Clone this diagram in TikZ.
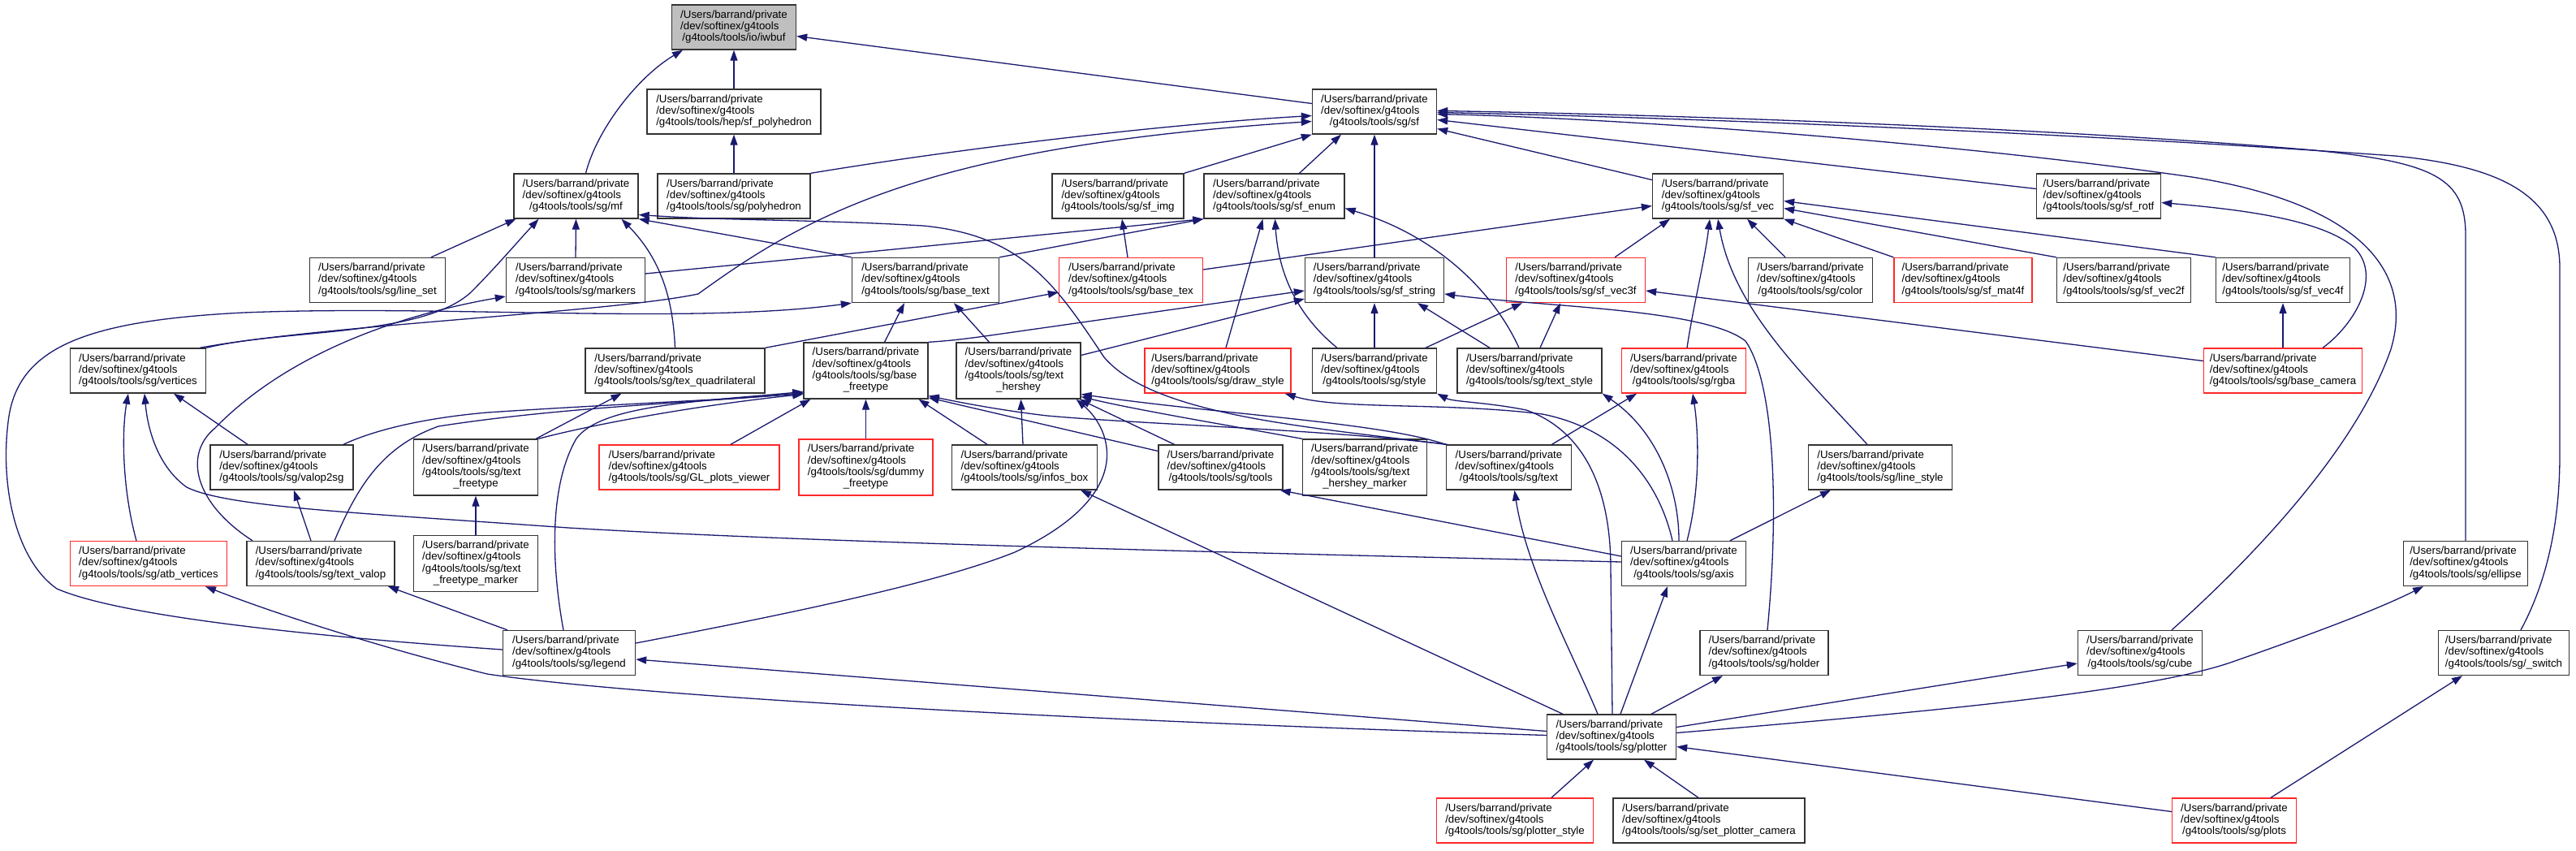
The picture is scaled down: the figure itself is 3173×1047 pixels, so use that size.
\documentclass[tikz,border=0pt]{standalone}
\usepackage{fontspec}
\setmainfont{Liberation Sans}
\usetikzlibrary{arrows.meta}
\definecolor{edgec}{RGB}{25,25,112}
\definecolor{redb}{RGB}{255,40,40}
\definecolor{grayf}{RGB}{191,191,191}
\newcommand\lbthree[1]{\begin{tabular}{@{}l@{}}/Users/barrand/private\\/dev/softinex/g4tools\\\multicolumn{1}{@{}c@{}}{#1}\end{tabular}}
\newcommand\lbfour[2]{\begin{tabular}{@{}l@{}}/Users/barrand/private\\/dev/softinex/g4tools\\#1\\\multicolumn{1}{@{}c@{}}{#2}\end{tabular}}
\begin{document}
\begin{tikzpicture}[x=1pt,y=-1pt,
  box/.style={draw=black!80,fill=white,line width=1.35pt,inner sep=0pt,font=\fontsize{13.3}{14.3}\selectfont,minimum height=55pt},
  tall/.style={minimum height=69pt},
  redbox/.style={draw=redb},
  e/.style={draw=edgec,line width=1.3pt,-{Triangle[length=13pt,width=9pt]}}]
\fill[white] (0,0) rectangle (3173,1047);
\useasboundingbox (0,0) rectangle (3173,1047);
% Row A
\node[box,fill=grayf,minimum width=153pt] (iwbuf) at (904,33.5) {\lbthree{/g4tools/tools/io/iwbuf}};
% Row B
\node[box,minimum width=214pt] (sfpoly) at (904,137.5) {\lbthree{/g4tools/tools/hep/sf\_polyhedron}};
\node[box,minimum width=153pt] (sf) at (1693,137.5) {\lbthree{/g4tools/tools/sg/sf}};
% Row C
\node[box,minimum width=153pt] (mf) at (709.5,241.5) {\lbthree{/g4tools/tools/sg/mf}};
\node[box,minimum width=188pt] (polyhedron) at (904,241.5) {\lbthree{/g4tools/tools/sg/polyhedron}};
\node[box,minimum width=162pt] (sfimg) at (1377,241.5) {\lbthree{/g4tools/tools/sg/sf\_img}};
\node[box,minimum width=173pt] (sfenum) at (1569.5,241.5) {\lbthree{/g4tools/tools/sg/sf\_enum}};
\node[box,minimum width=161pt] (sfvec) at (2116,241.5) {\lbthree{/g4tools/tools/sg/sf\_vec}};
\node[box,minimum width=153pt] (sfrotf) at (2585,241.5) {\lbthree{/g4tools/tools/sg/sf\_rotf}};
% Row D
\node[box,minimum width=167pt] (lineset) at (465,345) {\lbthree{/g4tools/tools/sg/line\_set}};
\node[box,minimum width=171pt] (markers) at (709,345) {\lbthree{/g4tools/tools/sg/markers}};
\node[box,minimum width=181pt] (basetext) at (1140,345) {\lbthree{/g4tools/tools/sg/base\_text}};
\node[box,redbox,minimum width=177pt] (basetex) at (1393,345) {\lbthree{/g4tools/tools/sg/base\_tex}};
\node[box,minimum width=171pt] (sfstring) at (1693,345) {\lbthree{/g4tools/tools/sg/sf\_string}};
\node[box,redbox,minimum width=171pt] (sfvecthree) at (1941,345) {\lbthree{/g4tools/tools/sg/sf\_vec3f}};
\node[box,minimum width=153pt] (color) at (2230,345) {\lbthree{/g4tools/tools/sg/color}};
\node[box,redbox,minimum width=170pt] (sfmat) at (2418,345) {\lbthree{/g4tools/tools/sg/sf\_mat4f}};
\node[box,minimum width=165pt] (sfvectwo) at (2616,345) {\lbthree{/g4tools/tools/sg/sf\_vec2f}};
\node[box,minimum width=165pt] (sfvecfour) at (2812,345) {\lbthree{/g4tools/tools/sg/sf\_vec4f}};
% Row E
\node[box,minimum width=167pt] (vertices) at (170,456.5) {\lbthree{/g4tools/tools/sg/vertices}};
\node[box,minimum width=221pt] (texquad) at (831.5,456.5) {\lbthree{/g4tools/tools/sg/tex\_quadrilateral}};
\node[box,tall,minimum width=153pt] (basefree) at (1066.5,456.5) {\lbfour{/g4tools/tools/sg/base}{\_freetype}};
\node[box,tall,minimum width=153pt] (texthershey) at (1254.5,456.5) {\lbfour{/g4tools/tools/sg/text}{\_hershey}};
\node[box,redbox,minimum width=180pt] (drawstyle) at (1500,456.5) {\lbthree{/g4tools/tools/sg/draw\_style}};
\node[box,minimum width=153pt] (style) at (1693,456.5) {\lbthree{/g4tools/tools/sg/style}};
\node[box,minimum width=178pt] (textstyle) at (1884,456.5) {\lbthree{/g4tools/tools/sg/text\_style}};
\node[box,redbox,minimum width=153pt] (rgba) at (2074,456.5) {\lbthree{/g4tools/tools/sg/rgba}};
\node[box,redbox,minimum width=195pt] (basecamera) at (2812,456.5) {\lbthree{/g4tools/tools/sg/base\_camera}};
% Row F
\node[box,minimum width=176pt] (valop2sg) at (347,575.5) {\lbthree{/g4tools/tools/sg/valop2sg}};
\node[box,tall,minimum width=153pt] (textfree) at (586,575.5) {\lbfour{/g4tools/tools/sg/text}{\_freetype}};
\node[box,redbox,minimum width=222pt] (glplots) at (849,575.5) {\lbthree{/g4tools/tools/sg/GL\_plots\_viewer}};
\node[box,redbox,tall,minimum width=165pt] (dummy) at (1066.5,575.5) {\lbfour{/g4tools/tools/sg/dummy}{\_freetype}};
\node[box,minimum width=179pt] (infos) at (1262,575.5) {\lbthree{/g4tools/tools/sg/infos\_box}};
\node[box,minimum width=153pt] (tools) at (1503.5,575.5) {\lbthree{/g4tools/tools/sg/tools}};
\node[box,tall,minimum width=153pt] (thm) at (1681,575.5) {\lbfour{/g4tools/tools/sg/text}{\_hershey\_marker}};
\node[box,minimum width=154pt] (text) at (1858.5,575.5) {\lbthree{/g4tools/tools/sg/text}};
\node[box,minimum width=177pt] (linestyle) at (2316,575.5) {\lbthree{/g4tools/tools/sg/line\_style}};
% Row G
\node[box,redbox,minimum width=193pt] (atb) at (183,694) {\lbthree{/g4tools/tools/sg/atb\_vertices}};
\node[box,minimum width=182pt] (textvalop) at (395,694) {\lbthree{/g4tools/tools/sg/text\_valop}};
\node[box,tall,minimum width=153pt] (tfm) at (586,694) {\lbfour{/g4tools/tools/sg/text}{\_freetype\_marker}};
\node[box,minimum width=153pt] (axis) at (2074,694) {\lbthree{/g4tools/tools/sg/axis}};
\node[box,minimum width=153pt] (ellipse) at (3037,694) {\lbthree{/g4tools/tools/sg/ellipse}};
% Row H
\node[box,minimum width=163pt] (legend) at (701,804) {\lbthree{/g4tools/tools/sg/legend}};
\node[box,minimum width=158pt] (holder) at (2173,804) {\lbthree{/g4tools/tools/sg/holder}};
\node[box,minimum width=153pt] (cube) at (2636,804) {\lbthree{/g4tools/tools/sg/cube}};
\node[box,minimum width=161pt] (switch) at (3084,804) {\lbthree{/g4tools/tools/sg/\_switch}};
% Row I
\node[box,minimum width=159pt] (plotter) at (1985,907.5) {\lbthree{/g4tools/tools/sg/plotter}};
% Row J
\node[box,redbox,minimum width=193pt] (plotterstyle) at (1866,1010.5) {\lbthree{/g4tools/tools/sg/plotter\_style}};
\node[box,minimum width=236pt] (spc) at (2105,1010.5) {\lbthree{/g4tools/tools/sg/set\_plotter\_camera}};
\node[box,redbox,minimum width=153pt] (plots) at (2752,1010.5) {\lbthree{/g4tools/tools/sg/plots}};
% Edges
\draw[e] ([xshift=12pt]mf.north) .. controls (735,160) and (785,95) .. ([xshift=-63pt]iwbuf.south);
\draw[e] (sfpoly.north) -- (iwbuf.south);
\draw[e] ([yshift=10pt]sf.west) -- ([yshift=-11pt]iwbuf.east);
\draw[e] (polyhedron.north) -- (sfpoly.south);
\draw[e] (polyhedron.north east) .. controls (1200,180) and (1450,152) .. ([yshift=-5pt]sf.west);
\draw[e] ([xshift=-8pt]vertices.north east) .. controls (400,400) and (750,385) .. (860,362) .. controls (1000,260) and (1150,180) .. ([yshift=-12pt]sf.west);
\draw[e] (sfimg.north east) -- (sf.south west);
\draw[e] ([xshift=31pt]sfenum.north) -- ([xshift=-41pt]sf.south);
\draw[e] (sfstring.north) -- (sf.south);
\draw[e] ([yshift=20pt]sfvec.west) -- ([yshift=-21pt]sf.east);
\draw[e] ([yshift=9pt]sfrotf.west) -- ([yshift=-10pt]sf.east);
\draw[e] (ellipse.north) -- (3037,290) .. controls (3037,220) and (3000,200) .. (2850,185) .. controls (2500,155) and (2000,140) .. ([yshift=1pt]sf.east);
\draw[e] ([xshift=21pt]switch.north) .. controls (3135,720) and (3153,650) .. (3153,560) -- (3153,330) .. controls (3153,240) and (3080,205) .. (2950,192) .. controls (2500,160) and (2000,143) .. ([yshift=-1pt]sf.east);
\draw[e] ([xshift=39pt]cube.north) .. controls (2760,700) and (2900,560) .. (2945,430) .. controls (2975,330) and (2900,250) .. (2700,218) .. controls (2400,175) and (2000,146) .. ([yshift=-3pt]sf.east);
\draw[e] (sfvecfour.north west) -- ([yshift=-6pt]sfvec.east);
\draw[e] (sfvectwo.north west) -- ([yshift=-15pt]sfvec.east);
\draw[e] (sfmat.north west) -- (sfvec.south east);
\draw[e] ([xshift=-31pt]color.north) -- ([xshift=36pt]sfvec.south);
\draw[e] ([xshift=4pt]rgba.north) .. controls (2085,380) and (2100,320) .. ([xshift=-10pt]sfvec.south);
\draw[e] ([xshift=-16pt]linestyle.north) .. controls (2220,460) and (2135,380) .. (sfvec.south);
\draw[e] ([xshift=48pt]sfvecthree.north) -- ([xshift=-59pt]sfvec.south);
\draw[e] ([yshift=13pt]basetex.east) -- ([yshift=-12pt]sfvec.west);
\draw[e] ([xshift=-4pt]basetex.north) -- ([xshift=5pt]sfimg.south);
\draw[e] (texquad.north east) -- ([yshift=-15pt]basetex.west);
\draw[e] (texquad.north) .. controls (829,370) and (815,320) .. ([xshift=56pt]mf.south);
\draw[e] ([xshift=66pt]lineset.north) -- ([xshift=-74pt]mf.south);
\draw[e] (vertices.north east) .. controls (350,405) and (520,415) .. (580,360) .. controls (610,330) and (640,295) .. ([xshift=-46pt]mf.south);
\draw[e] (markers.north) -- (mf.south);
\draw[e] (basetext.north west) -- (mf.south east);
\draw[e] ([xshift=2pt]text.north west) .. controls (1600,525) and (1420,510) .. (1360,440) .. controls (1300,350) and (1260,290) .. (1137,278) .. controls (1000,270) and (900,272) .. ([yshift=-23pt]mf.east);
\draw[e] ([yshift=8pt]markers.east) -- (sfenum.south west);
\draw[e] (basetext.north east) -- (sfenum.south west);
\draw[e] ([xshift=10pt]drawstyle.north) -- ([xshift=-14pt]sfenum.south);
\draw[e] ([xshift=-46pt]style.north) .. controls (1600,390) and (1575,340) .. ([xshift=1pt]sfenum.south);
\draw[e] ([xshift=-13pt]textstyle.north) .. controls (1840,360) and (1770,290) .. ([yshift=-15pt]sfenum.east);
\draw[e] ([xshift=23pt]basefree.north) -- ([xshift=-26pt]basetext.south);
\draw[e] ([xshift=-36pt]texthershey.north) -- ([xshift=35pt]basetext.south);
\draw[e] ([yshift=4pt]legend.west) .. controls (400,785) and (150,760) .. (70,725) .. controls (20,690) and (0,600) .. (10,520) .. controls (20,430) and (100,395) .. (300,385) .. controls (550,375) and (850,400) .. (basetext.south west);
\draw[e] (basefree.north east) .. controls (1165,420) and (1185,418) .. (1220,413) -- ([yshift=-13pt]sfstring.west);
\draw[e] ([yshift=19pt]texthershey.east) -- ([yshift=-23pt]sfstring.west);
\draw[e] (style.north) -- (sfstring.south);
\draw[e] ([xshift=-49pt]textstyle.north) -- ([xshift=53pt]sfstring.south);
\draw[e] ([xshift=4pt]holder.north) .. controls (2192,620) and (2185,470) .. (2150,420) .. controls (2100,380) and (1900,378) .. ([yshift=-17pt]sfstring.east);
\draw[e] ([xshift=63pt]style.north) -- ([xshift=-66pt]sfvecthree.south);
\draw[e] ([xshift=13pt]textstyle.north) -- ([xshift=-19pt]sfvecthree.south);
\draw[e] ([yshift=12pt]basecamera.west) -- ([yshift=-13pt]sfvecthree.east);
\draw[e] ([xshift=49pt]basecamera.north) .. controls (2900,400) and (2935,340) .. (2900,305) .. controls (2860,270) and (2760,258) .. ([yshift=-8pt]sfrotf.east);
\draw[e] (basecamera.north) -- (sfvecfour.south);
\draw[e] ([xshift=-15pt]atb.north) .. controls (150,600) and (150,530) .. ([xshift=-12pt]vertices.south);
\draw[e] ([xshift=-42pt]valop2sg.north) -- ([xshift=44pt]vertices.south);
\draw[e] ([yshift=2pt]axis.west) .. controls (1500,680) and (1000,668) .. (700,650) .. controls (450,632) and (280,625) .. (230,600) .. controls (195,575) and (182,530) .. ([xshift=8pt]vertices.south);
\draw[e] ([xshift=-84pt]textvalop.north) .. controls (240,620) and (225,560) .. (265,527) .. controls (350,440) and (480,390) .. ([yshift=-20pt]markers.west);
\draw[e] ([xshift=-12pt]textvalop.north) -- ([xshift=15pt]valop2sg.south);
\draw[e] ([xshift=17pt]textvalop.north) .. controls (440,600) and (470,550) .. (540,525) .. controls (700,500) and (880,495) .. ([yshift=-27pt]basefree.west);
\draw[e] ([xshift=76pt]valop2sg.north) .. controls (460,530) and (520,515) .. (600,508) .. controls (750,498) and (900,492) .. ([yshift=-28pt]basefree.west);
\draw[e] (textfree.north east) .. controls (720,525) and (850,500) .. ([yshift=-29pt]basefree.west);
\draw[e] ([xshift=-3pt]textfree.north east) -- ([xshift=-66pt]texquad.south);
\draw[e] ([xshift=-7pt]legend.north) .. controls (680,700) and (675,600) .. (710,540) .. controls (740,500) and (850,495) .. ([yshift=-26pt]basefree.west);
\draw[e] (tfm.north) -- (textfree.south);
\draw[e] ([xshift=51pt]glplots.north) -- ([xshift=-68pt]basefree.south);
\draw[e] (dummy.north) -- (basefree.south);
\draw[e] ([xshift=-46pt]infos.north) -- ([xshift=65pt]basefree.south);
\draw[e] ([xshift=-2pt]infos.north) -- ([xshift=3pt]texthershey.south);
\draw[e] ([yshift=20pt]tools.west) -- ([yshift=2pt]basefree.south east);
\draw[e] ([xshift=-57pt]tools.north) -- ([xshift=-2pt]texthershey.south east);
\draw[e] (text.north west) .. controls (1700,520) and (1500,510) .. ([yshift=-29pt]texthershey.east);
\draw[e] (text.north west) .. controls (1650,530) and (1400,522) .. (1290,512) .. controls (1230,505) and (1180,495) .. ([yshift=-31pt]basefree.east);
\draw[e] (thm.north west) .. controls (1520,525) and (1400,505) .. ([yshift=-32pt]texthershey.east);
\draw[e] ([xshift=53pt]text.north) -- ([xshift=-58pt]rgba.south);
\draw[e] ([yshift=9pt]axis.west) -- ([xshift=-4pt]tools.south east);
\draw[e] ([xshift=-14pt]axis.north) .. controls (2045,600) and (2000,530) .. (1900,510) .. controls (1780,495) and (1650,505) .. ([xshift=-8pt]drawstyle.south east);
\draw[e] ([xshift=-6pt]axis.north) .. controls (2068,600) and (2040,530) .. (textstyle.south east);
\draw[e] ([xshift=4pt]axis.north) .. controls (2095,600) and (2092,530) .. ([xshift=11pt]rgba.south);
\draw[e] ([xshift=57pt]axis.north) -- ([xshift=-61pt]linestyle.south);
\draw[e] ([xshift=1pt]plotter.north) -- (1984,700) .. controls (1984,600) and (1950,530) .. (1880,505) .. controls (1830,495) and (1790,495) .. (style.south east);
\draw[e] ([xshift=-17pt]plotter.north) .. controls (1935,800) and (1880,700) .. ([xshift=7pt]text.south);
\draw[e] ([xshift=-60pt]plotter.north) -- ([xshift=69pt]infos.south);
\draw[e] ([xshift=11pt]plotter.north) -- ([xshift=-20pt]axis.south);
\draw[e] ([xshift=49pt]plotter.north) -- ([xshift=-51pt]holder.south);
\draw[e] ([yshift=7pt]plotter.west) -- ([yshift=-8pt]legend.east);
\draw[e] ([yshift=2pt]plotter.west) .. controls (1400,890) and (800,860) .. (600,830) .. controls (480,800) and (350,760) .. ([xshift=70pt]atb.south);
\draw[e] ([yshift=12pt]plotter.east) -- ([yshift=-13pt]cube.west);
\draw[e] ([yshift=5pt]plotter.east) .. controls (2400,875) and (2650,850) .. (2750,815) .. controls (2850,780) and (2930,750) .. ([xshift=-52pt]ellipse.south);
\draw[e] ([yshift=11pt]plots.west) -- ([yshift=-12pt]plotter.east);
\draw[e] ([xshift=45pt]plots.north) -- ([xshift=-51pt]switch.south);
\draw[e] ([xshift=45pt]plotterstyle.north) -- ([xshift=-22pt]plotter.south);
\draw[e] ([xshift=-13pt]spc.north) -- ([xshift=40pt]plotter.south);
\draw[e] ([xshift=-76pt]legend.north) -- ([xshift=83pt]textvalop.south);
\draw[e] ([yshift=12pt]legend.east) .. controls (950,760) and (1150,720) .. (1250,680) .. controls (1400,610) and (1370,530) .. ([xshift=-6pt]texthershey.south east);
\end{tikzpicture}
\end{document}
